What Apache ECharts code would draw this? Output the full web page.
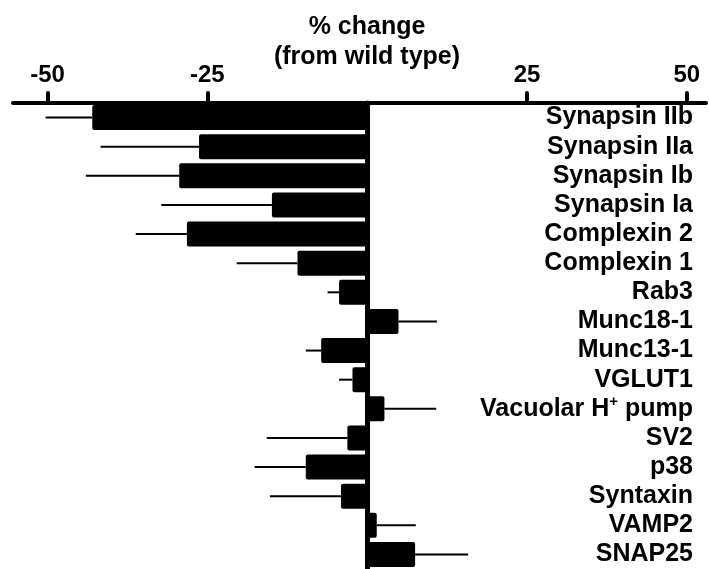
<!DOCTYPE html>
<html>
<head>
<meta charset="utf-8">
<script src="https://cdn.jsdelivr.net/npm/echarts@6/dist/echarts.min.js"></script>
<style>
  html, body { margin: 0; padding: 0; background: #fff; }
  #chart { width: 709px; height: 569px; }
</style>
</head>
<body>
<div id="chart"></div>
<script>
// ---- data ----
const categories = ['Synapsin IIb', 'Synapsin IIa', 'Synapsin Ib', 'Synapsin Ia', 'Complexin 2', 'Complexin 1',
  'Rab3', 'Munc18-1', 'Munc13-1', 'VGLUT1', 'Vacuolar H+ pump', 'SV2', 'p38', 'Syntaxin', 'VAMP2', 'SNAP25'];
const changes = [-43.0, -26.3, -29.4, -14.9, -28.2, -10.9, -4.4, 4.9, -7.2, -2.3, 2.7, -3.1, -9.6, -4.1, 1.5, 7.5];
const errors = [7.3, 15.4, 14.6, 17.3, 8.0, 9.5, 1.8, 6.0, 2.4, 2.1, 8.1, 12.6, 8.0, 11.1, 6.1, 8.3];
const tickValues = [-50, -25, 25, 50];
const titleLines = ['% change', '(from wild type)'];

const FONT = "'Liberation Sans', Arial, Helvetica, sans-serif";

const chart = echarts.init(document.getElementById('chart'), null, { renderer: 'canvas' });

const errData = changes.map((v, i) => [i, v, errors[i]]);

chart.setOption({
  animation: false,
  backgroundColor: '#ffffff',
  graphic: [{
    type: 'text',
    x: 367,
    y: 12,
    style: {
      text: titleLines.join('\n'),
      align: 'center',
      verticalAlign: 'top',
      fontFamily: FONT,
      fontSize: 25,
      fontWeight: 'bold',
      lineHeight: 30,
      fill: '#000'
    }
  }],
  grid: { left: 13, right: 3, top: 103, height: 467, containLabel: false },
  xAxis: {
    type: 'value',
    position: 'top',
    min: -55.4,
    max: 53.0,
    splitLine: { show: false },
    axisLine: { show: true, onZero: false, lineStyle: { color: '#000', width: 4, cap: 'round' } },
    axisTick: { show: true, inside: false, length: 10, customValues: tickValues,
      lineStyle: { color: '#000', width: 4, cap: 'round' } },
    axisLabel: { show: true, customValues: tickValues, margin: 16, color: '#000',
      fontFamily: FONT, fontSize: 24, fontWeight: 'bold' }
  },
  yAxis: [{
    type: 'category',
    inverse: true,
    data: categories,
    z: 10,
    axisLine: { show: true, onZero: true, lineStyle: { color: '#000', width: 5 } },
    axisTick: { show: false },
    axisLabel: { show: false },
    splitLine: { show: false }
  }, {
    type: 'category',
    inverse: true,
    position: 'right',
    data: categories,
    axisLine: { show: false },
    axisTick: { show: false },
    splitLine: { show: false },
    axisLabel: {
      show: true,
      interval: 0,
      inside: true,
      margin: 13,
      color: '#000',
      fontFamily: FONT,
      fontSize: 25,
      fontWeight: 'bold',
      formatter: function (v) {
        return v.replace('H+', 'H{sup|+}');
      },
      rich: {
        sup: { fontFamily: FONT, fontSize: 15, fontWeight: 'bold', color: '#000', verticalAlign: 'top', padding: [0, 0, 14, 0] }
      }
    }
  }],
  series: [{
    type: 'bar',
    data: changes,
    yAxisIndex: 0,
    barCategoryGap: '14%',
    itemStyle: { color: '#000', borderRadius: 2 },
    z: 3
  }, {
    type: 'custom',
    yAxisIndex: 0,
    data: errData,
    encode: { y: 0, x: 1 },
    z: 2,
    renderItem: function (params, api) {
      const idx = api.value(0);
      const v = api.value(1);
      const e = api.value(2);
      const end = v < 0 ? v - e : v + e;
      const p1 = api.coord([v, idx]);
      const p2 = api.coord([end, idx]);
      return {
        type: 'line',
        shape: { x1: p1[0], y1: p1[1], x2: p2[0], y2: p2[1] },
        style: { stroke: '#000', lineWidth: 2 }
      };
    }
  }]
});
</script>
</body>
</html>
